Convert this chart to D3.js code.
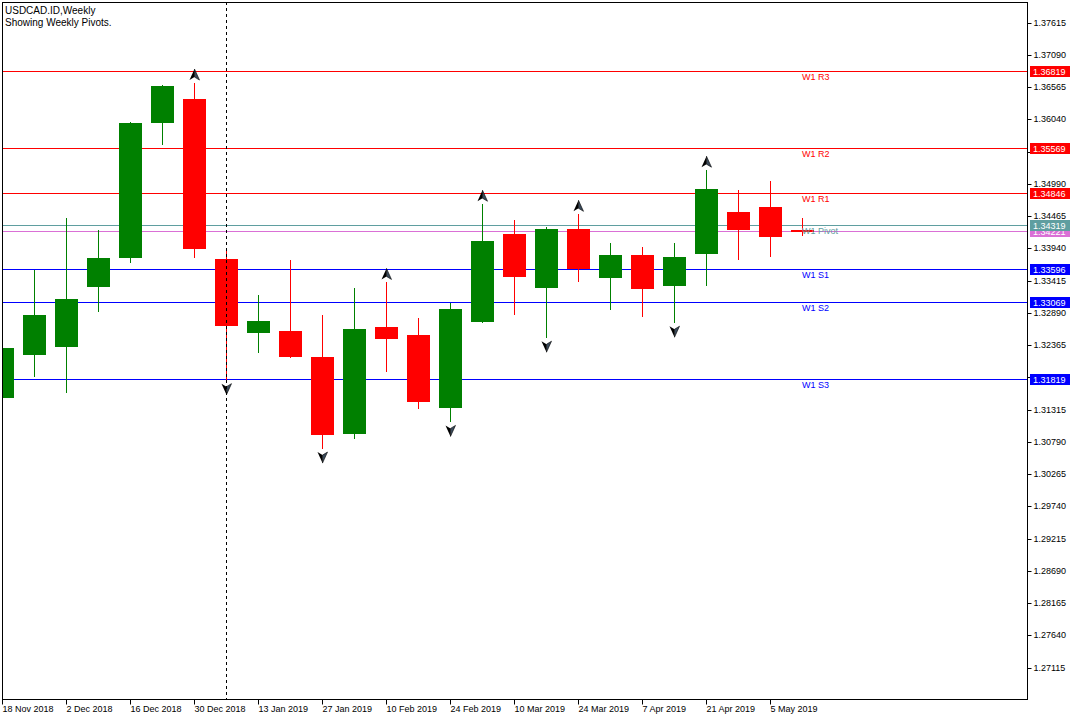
<!DOCTYPE html>
<html>
<head>
<meta charset="utf-8">
<script src="https://cdn.jsdelivr.net/npm/d3@7"></script>
<style>
  html, body { margin: 0; padding: 0; background: #fff; }
  svg text { font-family: "Liberation Sans", Arial, sans-serif; }
</style>
</head>
<body>
<svg id="chart" width="1080" height="720"></svg>
<script>
// ---------------- DATA ----------------
const weeks = ["2018-11-18","2018-11-25","2018-12-02","2018-12-09","2018-12-16","2018-12-23",
  "2018-12-30","2019-01-06","2019-01-13","2019-01-20","2019-01-27","2019-02-03","2019-02-10",
  "2019-02-17","2019-02-24","2019-03-03","2019-03-10","2019-03-17","2019-03-24","2019-03-31",
  "2019-04-07","2019-04-14","2019-04-21","2019-04-28","2019-05-05","2019-05-12"];
const open  = [1.31498,1.32199,1.32330,1.33308,1.33782,1.35984,1.36370,1.33760,1.32558,1.32602,
  1.32178,1.30910,1.32667,1.32537,1.31335,1.32738,1.34168,1.33292,1.34250,1.33455,
  1.33826,1.33325,1.33847,1.34527,1.34609,1.34245];
const high  = [1.32360,1.33586,1.34429,1.34233,1.35995,1.36599,1.36631,1.33891,1.33173,1.33744,
  1.32847,1.33287,1.33385,1.32798,1.33043,1.34658,1.34397,1.34282,1.34494,1.34021,
  1.33956,1.34021,1.35212,1.34886,1.35042,1.34429];
const low   = [1.31470,1.31840,1.31579,1.32901,1.33700,1.35625,1.33782,1.31786,1.32232,1.32150,
  1.30672,1.30829,1.31933,1.31318,1.31106,1.32721,1.32852,1.32477,1.33390,1.32933,
  1.32819,1.32721,1.33325,1.33755,1.33792,1.34140];
const close = [1.32325,1.32847,1.33108,1.33777,1.35979,1.36582,1.33928,1.32672,1.32749,1.32167,
  1.30894,1.32635,1.32460,1.31432,1.32945,1.34054,1.33472,1.34250,1.33597,1.33826,
  1.33276,1.33793,1.34902,1.34238,1.34123,1.34221];
const upFractals = [6, 12, 15, 18, 22];
const downFractals = [7, 10, 14, 17, 21];
const pivotNames  = ["W1 R3","W1 R2","W1 R1","W1 Pivot","W1 S1","W1 S2","W1 S3"];
const pivotValues = [1.36819,1.35569,1.34846,1.34319,1.33596,1.33069,1.31819];
const pivotColors = ["#ff0000","#ff0000","#ff0000","#5f9ea0","#0000ff","#0000ff","#0000ff"];
const bidPrice = 1.34221;
const separatorWeek = "2019-01-06";
const yTicks = [1.37615,1.37090,1.36565,1.36040,1.35515,1.34990,1.34465,1.33940,1.33415,1.32890,
  1.32365,1.31840,1.31315,1.30790,1.30265,1.29740,1.29215,1.28690,1.28165,1.27640,1.27115];
const xTickWeeks = ["2018-11-18","2018-12-02","2018-12-16","2018-12-30","2019-01-13","2019-01-27",
  "2019-02-10","2019-02-24","2019-03-10","2019-03-24","2019-04-07","2019-04-21","2019-05-05"];
const xTickLabels = ["18 Nov 2018","2 Dec 2018","16 Dec 2018","30 Dec 2018","13 Jan 2019","27 Jan 2019",
  "10 Feb 2019","24 Feb 2019","10 Mar 2019","24 Mar 2019","7 Apr 2019","21 Apr 2019","5 May 2019"];
const titleLines = ["USDCAD.ID,Weekly", "Showing Weekly Pivots."];

// ---------------- LAYOUT ----------------
const svg = d3.select("#chart");
const L = 2, R = 1027, T = 2, B = 699;
const parse = d3.utcParse("%Y-%m-%d");
const x = d3.scaleUtc()
  .domain([parse(weeks[0]), parse(weeks[weeks.length - 1])])
  .range([2.5, 802.5]);
const k = 0.0001628;
const y = d3.scaleLinear()
  .domain([1.36819 + (71.5 - T) * k, 1.36819 - (B - 71.5) * k])
  .range([T, B]);
const crisp = v => Math.round(v) + 0.5;

svg.append("rect").attr("width", 1080).attr("height", 720).attr("fill", "#fff");

svg.append("defs").append("clipPath").attr("id", "plotclip")
  .append("rect").attr("x", L + 0.5).attr("y", T).attr("width", R - L - 0.5).attr("height", B - T);

const plot = svg.append("g").attr("clip-path", "url(#plotclip)");

// pivot lines
pivotValues.forEach((v, i) => {
  plot.append("line")
    .attr("x1", L).attr("x2", R)
    .attr("y1", crisp(y(v))).attr("y2", crisp(y(v)))
    .attr("stroke", pivotColors[i]).attr("stroke-width", 1);
});
// bid line
plot.append("line")
  .attr("x1", L).attr("x2", R)
  .attr("y1", crisp(y(bidPrice))).attr("y2", crisp(y(bidPrice)))
  .attr("stroke", "#da70d6").attr("stroke-width", 1);

// separator dashed line
const sepX = Math.floor(x(parse(separatorWeek))) + 0.5;
svg.append("line")
  .attr("x1", sepX).attr("x2", sepX).attr("y1", T).attr("y2", B)
  .attr("stroke", "#000").attr("stroke-width", 1).attr("stroke-dasharray", "3,3");

// candles
const candles = plot.selectAll("g.candle").data(weeks.map((w, i) => ({
  d: parse(w), o: open[i], h: high[i], l: low[i], c: close[i]
}))).enter().append("g");
candles.append("line")
  .attr("x1", d => x(d.d)).attr("x2", d => x(d.d))
  .attr("y1", d => Math.round(y(d.h))).attr("y2", d => Math.round(y(d.l)))
  .attr("stroke", d => d.c >= d.o ? "#008000" : "#ff0000").attr("stroke-width", 1);
candles.append("rect")
  .attr("x", d => x(d.d) - 11.5)
  .attr("width", 23)
  .attr("y", d => Math.round(y(Math.max(d.o, d.c))))
  .attr("height", d => Math.max(2, Math.round(y(Math.min(d.o, d.c))) - Math.round(y(Math.max(d.o, d.c)))))
  .attr("fill", d => d.c >= d.o ? "#008000" : "#ff0000");

// fractal arrows
function arrow(g, cx, cy, up) {
  const s = up ? 1 : -1;
  g.append("path")
    .attr("d", `M${cx},${cy - 6 * s} L${cx - 5},${cy + 5 * s} L${cx},${cy + 2 * s} Z`)
    .attr("fill", "#000");
  g.append("path")
    .attr("d", `M${cx},${cy - 6 * s} L${cx + 5},${cy + 5 * s} L${cx},${cy + 2 * s} Z`)
    .attr("fill", "#3a4a5a").attr("stroke", "#000").attr("stroke-width", 0.6);
}
upFractals.forEach(i => arrow(plot, x(parse(weeks[i])), y(high[i]) - 8, true));
downFractals.forEach(i => arrow(plot, x(parse(weeks[i])), y(low[i]) + 8, false));

// pivot text labels in chart
pivotValues.forEach((v, i) => {
  svg.append("text")
    .attr("x", 802).attr("y", Math.round(y(v)) + 9)
    .attr("font-size", 9).attr("fill", pivotColors[i])
    .text(pivotNames[i]);
});

// frame
svg.append("rect").attr("x", L + 0.5).attr("y", T + 0.5).attr("width", R - L).attr("height", B - T)
  .attr("fill", "none").attr("stroke", "#000").attr("stroke-width", 1);

// right axis
const yAxis = svg.append("g").attr("transform", `translate(${R + 0.5},0)`)
  .call(d3.axisRight(y).tickValues(yTicks).tickFormat(d3.format(".5f")).tickSize(4).tickPadding(2));
yAxis.select(".domain").remove();
yAxis.selectAll(".tick line").attr("stroke", "#000");
yAxis.selectAll(".tick text").attr("font-size", 9).attr("fill", "#000")
  .attr("font-family", "Liberation Sans, Arial, sans-serif");
yAxis.selectAll(".tick").attr("transform", d => `translate(0,${crisp(y(d))})`);
// labels fully covered by a price box in the reference are not shown
yAxis.selectAll(".tick text")
  .filter(d => pivotValues.some(v => Math.abs(y(v) - y(d)) < 8))
  .remove();

// axis value labels for pivots and bid
function priceBox(v, color) {
  const cy = Math.round(y(v));
  svg.append("rect").attr("x", 1030).attr("y", cy - 5).attr("width", 40).attr("height", 11)
    .attr("fill", color);
  svg.append("text").attr("x", 1033).attr("y", cy + 4)
    .attr("font-size", 9).attr("fill", "#fff").text(d3.format(".5f")(v));
}
priceBox(bidPrice, "#da70d6");
pivotValues.forEach((v, i) => priceBox(v, pivotColors[i]));

// bottom axis
const xAxis = svg.append("g").attr("transform", `translate(0,${B + 0.5})`)
  .call(d3.axisBottom(x).tickValues(xTickWeeks.map(parse))
    .tickFormat((d, i) => xTickLabels[i]).tickSize(5).tickPadding(1));
xAxis.select(".domain").remove();
xAxis.selectAll(".tick").attr("transform", d => `translate(${Math.floor(x(d)) + 0.5},0)`);
xAxis.selectAll(".tick line").attr("stroke", "#000");
xAxis.selectAll(".tick text").attr("font-size", 9).attr("fill", "#000")
  .attr("text-anchor", "start").attr("x", 0)
  .attr("font-family", "Liberation Sans, Arial, sans-serif");

// title
titleLines.forEach((t, i) => {
  svg.append("text").attr("x", 5).attr("y", 14 + i * 12)
    .attr("font-size", 10).attr("fill", "#000").text(t);
});
</script>
</body>
</html>
